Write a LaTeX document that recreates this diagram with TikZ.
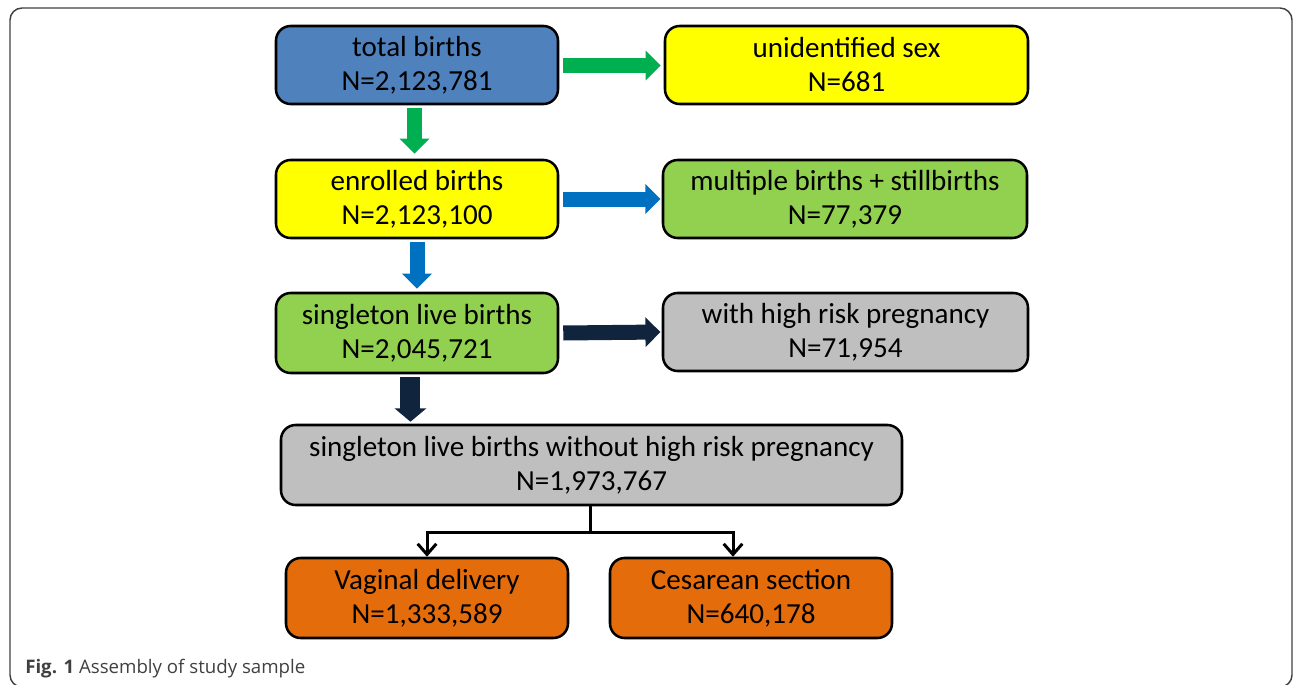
\documentclass[tikz,border=0pt]{standalone}
\usepackage{fontspec}
\setmainfont{Carlito}
\newfontfamily\capfont{Open Sans}
\usetikzlibrary{arrows.meta}
\definecolor{cblue}{HTML}{4F81BD}
\definecolor{cyellow}{HTML}{FFFF00}
\definecolor{cgreen}{HTML}{92D050}
\definecolor{cgray}{HTML}{BFBFBF}
\definecolor{corange}{HTML}{E46C0A}
\definecolor{agreen}{HTML}{00B050}
\definecolor{ablue}{HTML}{0070C0}
\definecolor{anavy}{HTML}{10243E}
\definecolor{framec}{HTML}{404040}
\tikzset{
  box/.style={draw=black, line width=1.9pt, rounded corners=11pt, inner sep=0pt,
    minimum width=211.5pt, minimum height=58.5pt, align=center,
    font=\fontsize{21.8}{25.5}\selectfont, text=black},
  blockarrow/.style={line width=11.25pt, -{Triangle[width=21.75pt,length=11.25pt]}},
  bigarrow/.style={line width=15pt, -{Triangle[width=23.25pt,length=10pt]}},
  conn/.style={draw=black, line width=2.25pt, -{Straight Barb[width=14pt,length=8pt,line width=2.25pt]}},
}
\begin{document}
\begin{tikzpicture}[x=0.75pt, y=-0.75pt]
\useasboundingbox (0,0) rectangle (1293,685);
\draw[framec, line width=1.1pt, rounded corners=9pt] (10,8) rectangle (1292,687);
% nodes
\node[box, fill=cblue] (total) at (417,65) {total births\\N=2,123,781};
\node[box, fill=cyellow, minimum width=272.25pt] (unid) at (846.5,65) {unidentified sex\\N=681};
\node[box, fill=cyellow] (enrol) at (417,199) {enrolled births\\N=2,123,100};
\node[box, fill=cgreen, minimum width=273pt] (mult) at (845,199) {multiple births + stillbirths\\N=77,379};
\node[box, fill=cgreen, minimum height=60pt] (single) at (417,333) {singleton live births\\N=2,045,721};
\node[box, fill=cgray, minimum width=273.75pt] (risk) at (845.5,332) {with high risk pregnancy\\N=71,954};
\node[box, fill=cgray, minimum width=465.75pt, minimum height=60pt] (without) at (591.5,465) {singleton live births without high risk pregnancy\\N=1,973,767};
\node[box, fill=corange, minimum height=60pt] (vag) at (427,598) {Vaginal delivery\\N=1,333,589};
\node[box, fill=corange, minimum height=60pt] (ces) at (751,598) {Cesarean section\\N=640,178};
% block arrows
\draw[blockarrow, agreen] ([xshift=3pt,yshift=-0.4pt]total.east) -- ([xshift=-2.25pt,yshift=-0.4pt]unid.west);
\draw[blockarrow, agreen] ([xshift=-1.9pt,yshift=-2.25pt]total.south) -- ([xshift=-1.9pt,yshift=3.75pt]enrol.north);
\draw[blockarrow, ablue] ([xshift=3pt]enrol.east) -- ([xshift=-1pt]mult.west);
\draw[blockarrow, ablue] ([yshift=-2.25pt]enrol.south) -- ([yshift=2.25pt]single.north);
\draw[blockarrow, anavy] ([xshift=3pt]single.east) -- ([xshift=-1pt]risk.west);
\draw[bigarrow, anavy] ([xshift=-4.9pt,yshift=-2.25pt]single.south) -- ([xshift=-4.9pt,yshift=1.5pt]single.south |- without.north);
% split connector
\coordinate (j) at (590,532);
\draw[line width=2.25pt] (without.south -| j) -- (j);
\draw[conn] (j) -| (vag.north);
\draw[conn] (j) -| ([xshift=-13.5pt]ces.north);
% caption
\node[anchor=base west, inner sep=0pt, text=framec, font=\capfont\fontsize{14}{16}\selectfont] (cap) at (25,673) {\textbf{Fig. 1} Assembly of study sample};
\end{tikzpicture}
\end{document}
